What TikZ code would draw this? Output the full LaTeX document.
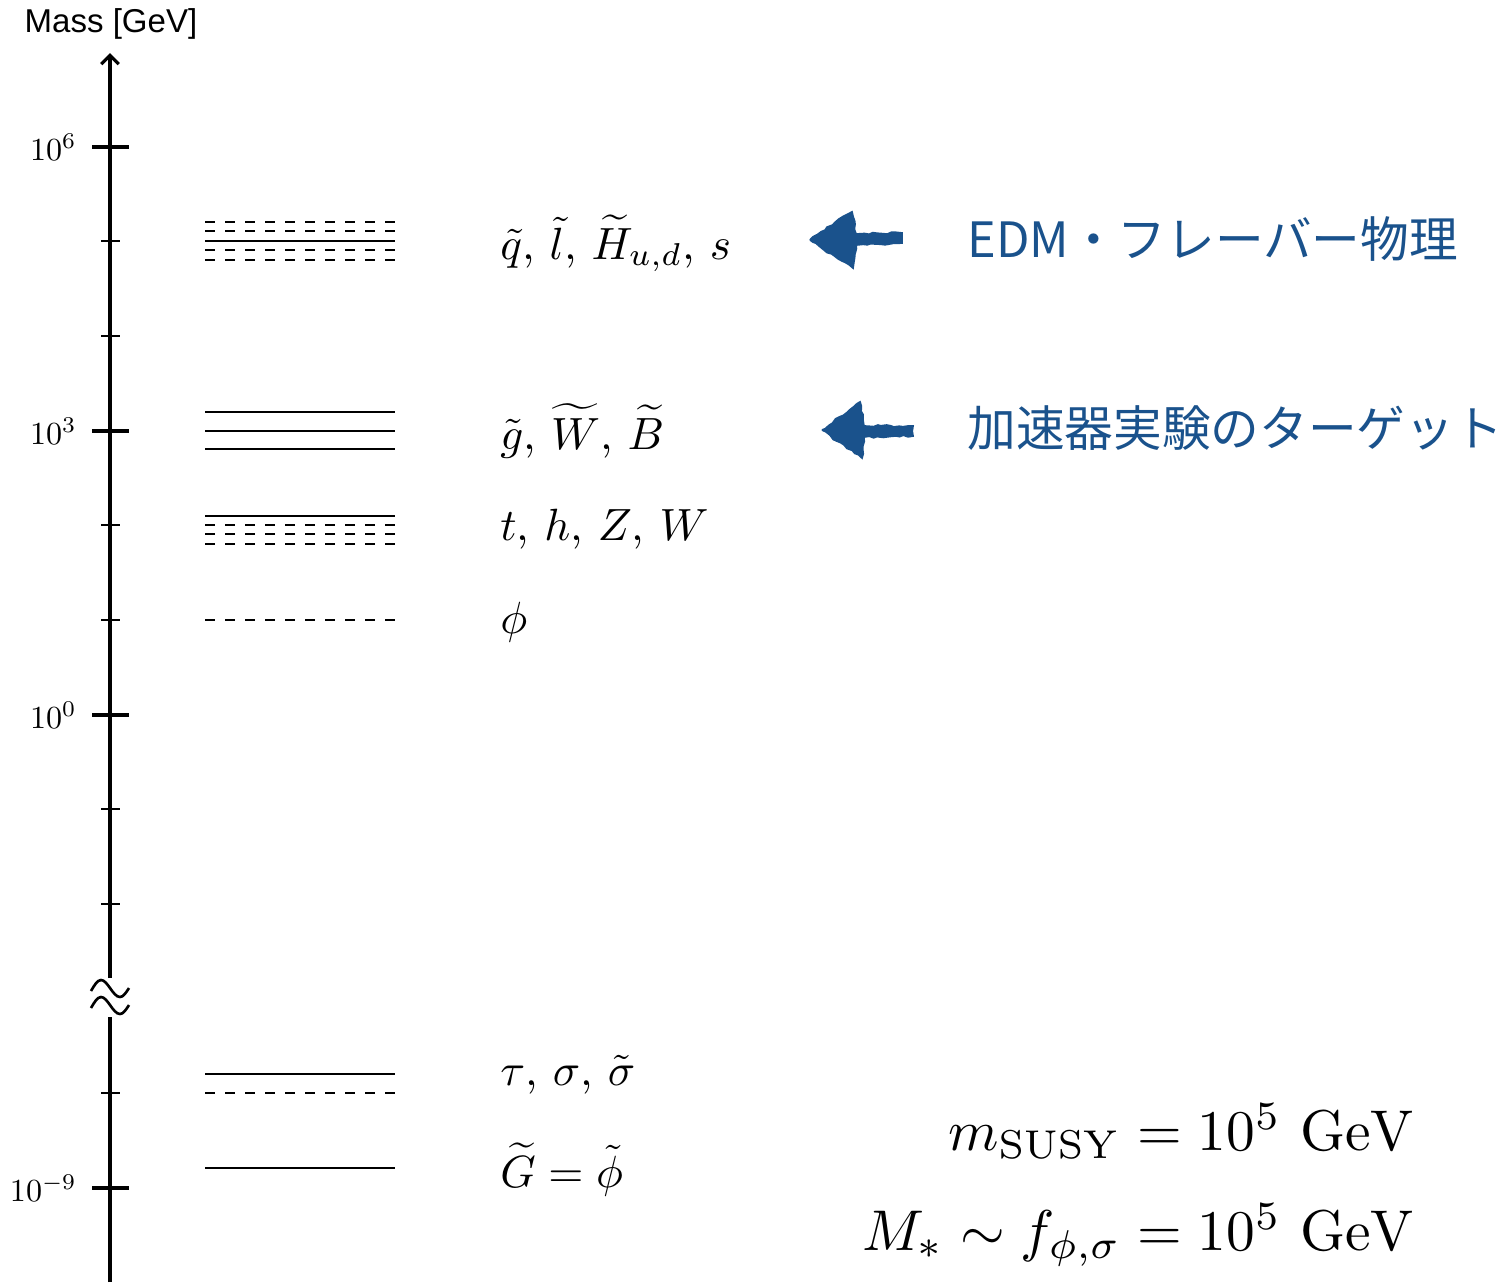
\documentclass[tikz,border=0pt]{standalone}
\usepackage{amsmath}
\usepackage{amssymb}
\usepackage[no-math]{fontspec}
\newfontfamily\jpfont{Noto Sans CJK JP}
\newfontfamily\axisfont{Liberation Sans}
\usetikzlibrary{positioning,arrows.meta,decorations.pathmorphing}
\definecolor{noteblue}{RGB}{26,82,140}
\newcommand{\ticktext}[1]{\scalebox{1.83}{$#1$}}
\newcommand{\parttext}[1]{\scalebox{2.57}{#1}}
\newcommand{\scaletext}[1]{\scalebox{3.27}{$#1$}}

\begin{document}
\begin{tikzpicture}[x=0.02cm,y=-0.02cm,
solid level/.style={line width=1.25pt},
dashed level/.style={line width=1.25pt,dash pattern=on 5.7pt off 5.7pt},
major tick/.style={line width=2.3pt},
minor tick/.style={line width=1.15pt},
tick label/.style={anchor=east,inner sep=0pt},
particle label/.style={anchor=base west,inner sep=0pt},
note label/.style={anchor=base west,inner sep=0pt,text=noteblue,font=\jpfont\fontsize{27.7}{30}\selectfont},
formula/.style={anchor=base east,inner sep=0pt},
hand arrow/.style={fill=noteblue,draw=noteblue,line width=1pt,decorate,decoration={random steps,segment length=2.5pt,amplitude=0.6pt}}]
\useasboundingbox (0,0) rectangle (1510,1282);

% axis with break
\draw[line width=1.9pt] (110,1282) -- (110,1017);
\draw[line width=1.9pt,-{Straight Barb[length=5pt,width=10pt]}] (110,978) -- (110,53);
\draw[line width=1.5pt] (91,991) sin (101,980) cos (110,988) sin (120,997) cos (129,988);
\draw[line width=1.5pt] (91,1008) sin (101,997) cos (110,1005) sin (120,1014) cos (129,1005);
\node[anchor=base,inner sep=0pt,font=\axisfont\fontsize{18.8}{20}\selectfont] (mass) at (111,32) {Mass [GeV]};

% ticks
\draw[major tick] (92,147) -- (129,147);
\draw[major tick] (92,431) -- (129,431);
\draw[major tick] (92,715) -- (129,715);
\draw[major tick] (92,1188) -- (129,1188);
\draw[minor tick] (101,241) -- (120,241);
\draw[minor tick] (101,336) -- (120,336);
\draw[minor tick] (101,525) -- (120,525);
\draw[minor tick] (101,620) -- (120,620);
\draw[minor tick] (101,809) -- (120,809);
\draw[minor tick] (101,904) -- (120,904);
\draw[minor tick] (101,1093) -- (120,1093);
\node[tick label] (e6) at (77,147) {\ticktext{10^{6}}};
\node[tick label] (e3) at (77,431) {\ticktext{10^{3}}};
\node[tick label] (e0) at (77,715) {\ticktext{10^{0}}};
\node[tick label] (em9) at (77,1188) {\ticktext{10^{-9}}};

% mass levels
\draw[dashed level] (205,222) -- (395,222);
\draw[dashed level] (205,231) -- (395,231);
\draw[solid level] (205,241) -- (395,241);
\draw[dashed level] (205,250) -- (395,250);
\draw[dashed level] (205,260) -- (395,260);
\draw[solid level] (205,412) -- (395,412);
\draw[solid level] (205,431) -- (395,431);
\draw[solid level] (205,449) -- (395,449);
\draw[solid level] (205,516) -- (395,516);
\draw[dashed level] (205,525) -- (395,525);
\draw[dashed level] (205,534) -- (395,534);
\draw[dashed level] (205,544) -- (395,544);
\draw[dashed level] (205,620) -- (395,620);
\draw[solid level] (205,1074) -- (395,1074);
\draw[dashed level] (205,1093) -- (395,1093);
\draw[solid level] (205,1168) -- (395,1168);

\node[particle label] (1) at (500,259) {\parttext{$\tilde{q}$, $\tilde{l}$, $\widetilde{H}_{u,d}$, $s$}};
\node[particle label] (2) at (500,449) {\parttext{$\tilde{g}$, $\widetilde{W}$, $\widetilde{B}$}};
\node[particle label] (3) at (500,540) {\parttext{$t$, $h$, $Z$, $W$}};
\node[particle label] (4) at (500,633) {\parttext{$\phi$}};
\node[particle label] (5) at (500,1085) {\parttext{$\tau$, $\sigma$, $\tilde{\sigma}$}};
\node[particle label] (6) at (500,1187) {\parttext{$\widetilde{G}=\tilde{\phi}$}};

% hand drawn arrows and notes
\path[hand arrow] (810,240) .. controls (826,228) and (840,219) .. (852,212) -- (856,234) -- (902,233) -- (902,243) -- (856,245) -- (853,268) .. controls (840,260) and (826,251) .. (810,240) -- cycle;
\path[hand arrow] (822,430) .. controls (838,418) and (850,409) .. (860,402) -- (864,426) -- (913,426) -- (913,436) -- (864,437) -- (862,458) .. controls (850,450) and (837,441) .. (822,430) -- cycle;
\node[note label] (7) at (967,257) {EDM・フレーバー物理};
\node[note label] (8) at (967,446) {加速器実験のターゲット};

\node[formula] (9) at (1415,1150) {\scaletext{m_{\mathrm{SUSY}} = 10^5~\mathrm{GeV}}};
\node[formula] (10) at (1415,1250) {\scaletext{M_* \sim f_{\phi,\sigma} = 10^5~\mathrm{GeV}}};
\end{tikzpicture}
\end{document}
